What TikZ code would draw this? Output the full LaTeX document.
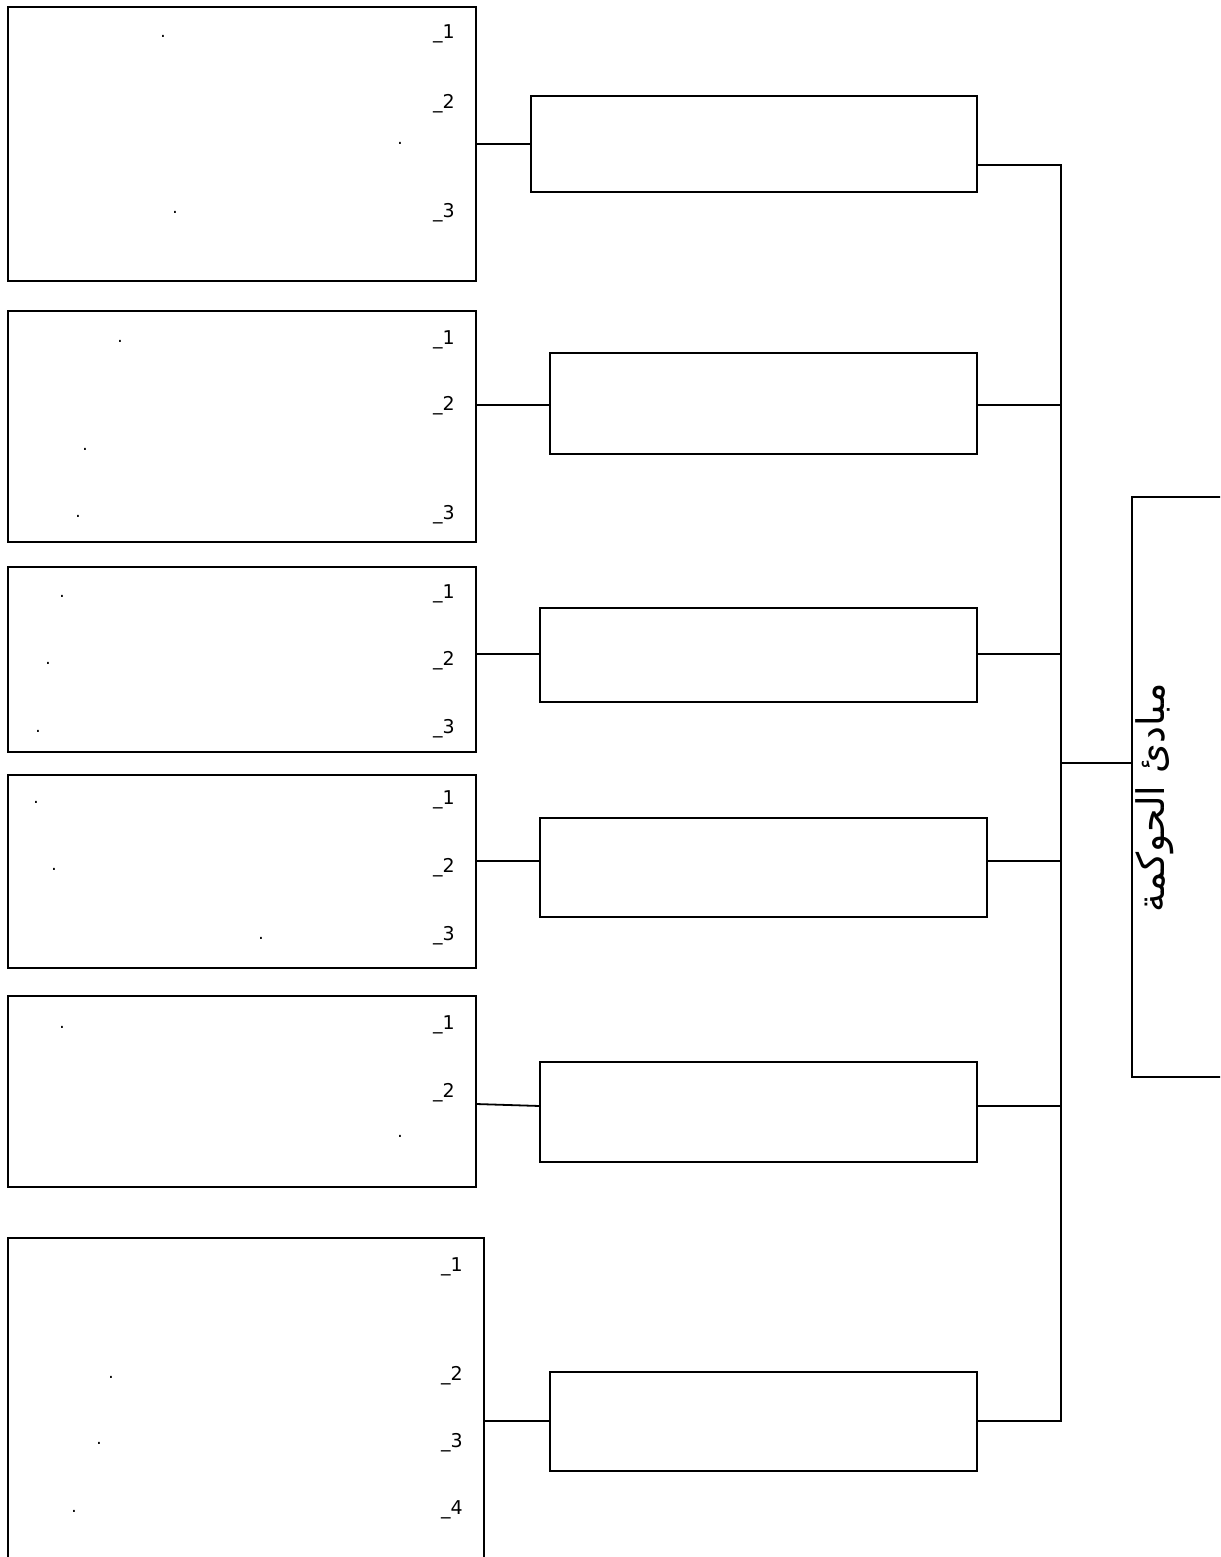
\documentclass[tikz,border=0pt]{standalone}
\usepackage{fontspec}
\setmainfont{DejaVu Sans}
\newfontfamily\arabicfont[Script=Arabic]{DejaVu Sans}
\TeXXeTstate=1
\begin{document}
\begin{tikzpicture}[x=1pt,y=-1pt,
  box/.style={draw,line width=1.8pt,inner sep=0pt,outer sep=0pt},
  conn/.style={line width=1.8pt},
  lab/.style={anchor=east,inner sep=0pt,font=\fontsize{19}{21}\selectfont},
  dotlab/.style={inner sep=0pt,font=\fontsize{17}{19}\selectfont}]
\useasboundingbox (0,0) rectangle (1220,1557);
\clip (0,0) rectangle (1220,1557);
% left boxes
\node[box,minimum width=468pt,minimum height=274pt] (L1) at (242,144) {};
\node[box,minimum width=468pt,minimum height=231pt] (L2) at (242,426.5) {};
\node[box,minimum width=468pt,minimum height=185pt] (L3) at (242,659.5) {};
\node[box,minimum width=468pt,minimum height=193pt] (L4) at (242,871.5) {};
\node[box,minimum width=468pt,minimum height=191pt] (L5) at (242,1091.5) {};
\node[box,minimum width=476pt,minimum height=342pt] (L6) at (246,1409) {};
% middle boxes
\node[box,minimum width=446pt,minimum height=96pt] (M1) at (754,144) {};
\node[box,minimum width=427pt,minimum height=101pt] (M2) at (763.5,403.5) {};
\node[box,minimum width=437pt,minimum height=94pt] (M3) at (758.5,655) {};
\node[box,minimum width=447pt,minimum height=99pt] (M4) at (763.5,867.5) {};
\node[box,minimum width=437pt,minimum height=100pt] (M5) at (758.5,1112) {};
\node[box,minimum width=427pt,minimum height=99pt] (M6) at (763.5,1421.5) {};
% right box
\node[box,minimum width=108pt,minimum height=580pt] (R) at (1186,787) {};
\node[rotate=90,inner sep=0pt,font=\fontsize{38}{44}\selectfont] (Rt) at (1155,798) {\arabicfont\beginR مبادئ الحوكمة\endR};
% bus coordinates
\coordinate (b1) at (1061,165);
\coordinate (b2) at (1061,405);
\coordinate (b3) at (1061,654);
\coordinate (b4) at (1061,861);
\coordinate (b5) at (1061,1106);
\coordinate (b6) at (1061,1421);
\coordinate (bR) at (1061,763);
\coordinate (c4) at (500,861);
\coordinate (c5a) at (500,1104);
\coordinate (c5b) at (500,1106);
% left connectors
\draw[conn] (L1.east |- M1.west) -- (M1.west);
\draw[conn] (L2.east |- b2) -- (M2.west |- b2);
\draw[conn] (L3.east |- b3) -- (M3.west |- b3);
\draw[conn] (L4.east |- c4) -- (M4.west |- c4);
\draw[conn] (L5.east |- c5a) -- (M5.west |- c5b);
\draw[conn] (L6.east |- b6) -- (M6.west |- b6);
% right connectors and bus
\draw[conn] (M1.east |- b1) -- (b1) -- (b6) -- (M6.east |- b6);
\draw[conn] (M2.east |- b2) -- (b2);
\draw[conn] (M3.east |- b3) -- (b3);
\draw[conn] (M4.east |- b4) -- (b4);
\draw[conn] (M5.east |- b5) -- (b5);
\draw[conn] (bR) -- (R.west |- bR);
% labels box 1
\node[lab] (n11) at (455,34) {\_1};
\node[lab] (n12) at (455,104) {\_2};
\node[lab] (n13) at (455,213) {\_3};
\node[dotlab] (d11) at (163,36) {.};
\node[dotlab] (d12) at (400,143) {.};
\node[dotlab] (d13) at (175,212) {.};
% box 2
\node[lab] (n21) at (455,340) {\_1};
\node[lab] (n22) at (455,406) {\_2};
\node[lab] (n23) at (455,515) {\_3};
\node[dotlab] (d21) at (120,341) {.};
\node[dotlab] (d22) at (85,449) {.};
\node[dotlab] (d23) at (78,516) {.};
% box 3
\node[lab] (n31) at (455,594) {\_1};
\node[lab] (n32) at (455,661) {\_2};
\node[lab] (n33) at (455,729) {\_3};
\node[dotlab] (d31) at (62,596) {.};
\node[dotlab] (d32) at (48,663) {.};
\node[dotlab] (d33) at (38,731) {.};
% box 4
\node[lab] (n41) at (455,800) {\_1};
\node[lab] (n42) at (455,868) {\_2};
\node[lab] (n43) at (455,936) {\_3};
\node[dotlab] (d41) at (36,802) {.};
\node[dotlab] (d42) at (54,869) {.};
\node[dotlab] (d43) at (261,938) {.};
% box 5
\node[lab] (n51) at (455,1025) {\_1};
\node[lab] (n52) at (455,1093) {\_2};
\node[dotlab] (d51) at (62,1027) {.};
\node[dotlab] (d52) at (400,1136) {.};
% box 6
\node[lab] (n61) at (463,1267) {\_1};
\node[lab] (n62) at (463,1376) {\_2};
\node[lab] (n63) at (463,1443) {\_3};
\node[lab] (n64) at (463,1510) {\_4};
\node[dotlab] (d62) at (111,1377) {.};
\node[dotlab] (d63) at (99,1443) {.};
\node[dotlab] (d64) at (74,1511) {.};
\end{tikzpicture}
\end{document}
